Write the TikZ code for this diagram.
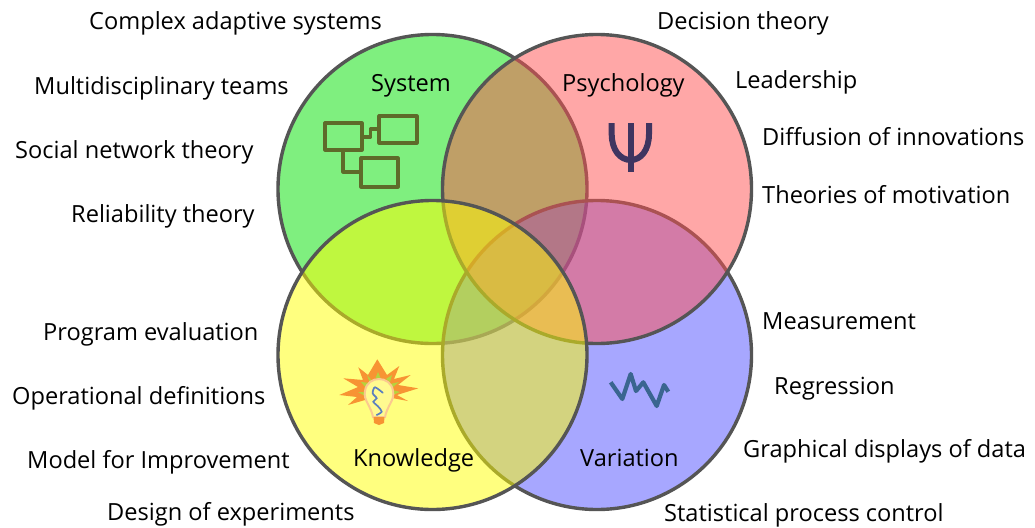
\documentclass[tikz,border=0pt]{standalone}
\usepackage{fontspec}
\setmainfont{Open Sans}
\definecolor{ringc}{HTML}{555555}
\definecolor{sysc}{HTML}{00E000}
\definecolor{psyc}{HTML}{FF5050}
\definecolor{varc}{HTML}{5050FF}
\definecolor{knoc}{HTML}{FFFF00}
\definecolor{iconc}{HTML}{5E6B2A}
\definecolor{psic}{HTML}{3F3560}
\definecolor{wavec}{HTML}{3A6590}
\definecolor{starc}{HTML}{F79433}
\definecolor{glowc}{HTML}{B5D33D}
\definecolor{bulbc}{HTML}{FBC98F}
\definecolor{glassc}{HTML}{FFFA90}
\definecolor{filc}{HTML}{5B7FBF}
\tikzset{
  ring/.style={draw=ringc,line width=3.4pt,fill opacity=.5},
  lab/.style={inner sep=0pt,anchor=base west,font=\fontsize{23.6}{27}\selectfont,text=black},
  sysline/.style={draw=iconc,line width=3.2pt,line join=round},
}
\begin{document}
\begin{tikzpicture}[x=1pt,y=-1pt]
\path[use as bounding box,fill=white] (0,0) rectangle (1035,527);
\draw[ring,fill=sysc] (432.5,189) circle[radius=154.5];
% system icon
\draw[sysline] (325,123) rectangle (362,150);
\draw[sysline] (379,116) rectangle (417,143);
\draw[sysline] (361,158) rectangle (398,187);
\coordinate (a1) at (362,137); \coordinate (a2) at (370.5,137); \coordinate (a3) at (370.5,129); \coordinate (a4) at (379,129);
\draw[sysline] (a1) -- (a2) -- (a3) -- (a4);
\coordinate (b1) at (343,150); \coordinate (b2) at (343,172); \coordinate (b3) at (361,172);
\draw[sysline] (b1) -- (b2) -- (b3);
\draw[ring,fill=varc] (597,355) circle[radius=154.5];
% wave icon
\draw[wavec,line width=4.2pt,line join=round]
  (610.7,382.3) -- (622.3,399) -- (630.7,374) -- (636,391) -- (643.3,382.3) -- (656.7,406) -- (664,385) -- (668.3,391.7);
\draw[ring,fill=psyc] (597,189) circle[radius=154.5];
% psi icon
\draw[psic,line width=6pt] (611.7,123) -- (611.7,134) .. controls (611.7,150) and (620,160) .. (630.7,160) .. controls (641,160) and (649,150) .. (649,134) -- (649,123);
\draw[psic,line width=6pt] (630.7,123) -- (630.7,172);
\draw[ring,fill=knoc] (432.5,355) circle[radius=154.5];
% bulb icon
\fill[starc] (377.3,359.3) -- (368,375) -- (358.3,367.3) -- (363,380) -- (343.3,378.3) -- (358,387) -- (339.3,395) -- (357,397)
  -- (348,405) -- (365,400) -- (379,405) -- (392,398) -- (408,401) -- (397,395) -- (418.3,388.3) -- (398,385) -- (410.7,375) -- (394,379)
  -- (399.3,366) -- (387,375) -- cycle;
\fill[glowc] (361,382) -- (370,383) -- (366,388) -- cycle;
\fill[glowc] (367,375) -- (373,382) -- (370,383) -- cycle;
\fill[glowc] (378,372) -- (380.5,378) -- (375.5,378) -- cycle;
\fill[glowc] (392,375) -- (390,382) -- (386,379) -- cycle;
\fill[glowc] (399,382) -- (392,388) -- (390,384) -- cycle;
\fill[glowc] (358,392) -- (366,392) -- (365,396) -- cycle;
\fill[glowc] (400,392) -- (393,390) -- (393,395) -- cycle;
\fill[glassc,draw=bulbc,line width=2pt]
  (373,417) .. controls (371,406) and (363,400) .. (365,391) .. controls (367,375) and (391,375) .. (393,391) .. controls (395,400) and (387,406) .. (385,417) -- cycle;
\fill[starc] (373.5,417) -- (384.5,417) -- (384,423) -- (379,425) -- (374,423) -- cycle;
\draw[filc,line width=1.7pt,line cap=round] plot[smooth] coordinates {(382.7,392.7) (375,387.3) (372.7,393.3) (376.7,398.3) (373.3,401.7) (378.3,406.7) (381.7,411.7) (376.7,415)};
% labels
\node[lab] (t1) at (89,30) {Complex adaptive systems};
\node[lab] (t2) at (34,94) {Multidisciplinary teams};
\node[lab] (t3) at (15,158) {Social network theory};
\node[lab] (t4) at (71,222) {Reliability theory};
\node[lab] (t5) at (371,91) {System};
\node[lab] (t6) at (562,91) {Psychology};
\node[lab] (t7) at (657,30) {Decision theory};
\node[lab] (t8) at (735,88) {Leadership};
\node[lab] (t9) at (762,145) {Diffusion of innovations};
\node[lab] (t10) at (762,203) {Theories of motivation};
\node[lab] (t11) at (43,340) {Program evaluation};
\node[lab] (t12) at (12,404) {Operational definitions};
\node[lab] (t13) at (27,468) {Model for Improvement};
\node[lab] (t14) at (107,520) {Design of experiments};
\node[lab] (t15) at (353,466) {Knowledge};
\node[lab] (t16) at (580,466) {Variation};
\node[lab] (t17) at (762,329) {Measurement};
\node[lab] (t18) at (774,394) {Regression};
\node[lab] (t19) at (743,457) {Graphical displays of data};
\node[lab] (t20) at (664,521) {Statistical process control};
\end{tikzpicture}
\end{document}
